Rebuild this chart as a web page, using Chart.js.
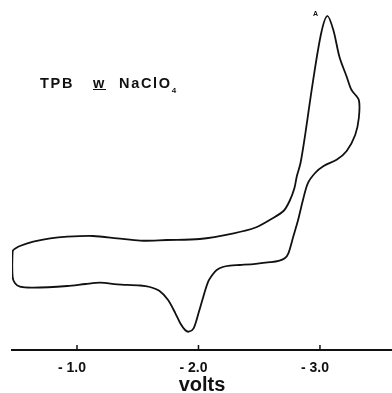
<!DOCTYPE html>
<html>
<head>
<meta charset="utf-8">
<script src="https://cdn.jsdelivr.net/npm/chart.js@4/dist/chart.umd.min.js"></script>
<style>
  html, body { margin: 0; padding: 0; background: #fff; }
  #wrap { position: relative; width: 392px; height: 393px; }
  .note {
    position: absolute; top: 76px; line-height: 1;
    font-family: 'Liberation Sans', Arial, sans-serif; font-size: 14.5px; font-weight: bold;
    letter-spacing: 1.7px; color: #111; white-space: pre;
  }
  .note sub { font-size: 8px; vertical-align: -5px; letter-spacing: 0; }
  #peakA {
    position: absolute; left: 313px; top: 10px;
    font-family: 'Liberation Sans', Arial, sans-serif; font-size: 7px; font-weight: bold; color: #111;
  }
</style>
</head>
<body>
<div id="wrap">
  <canvas id="cv"></canvas>
  <span class="note" style="left:40px">TPB</span>
  <span class="note" style="left:93px"><u>w</u></span>
  <span class="note" style="left:119px">NaClO<sub>4</sub></span>
  <div id="peakA">A</div>
</div>
<script>
// cyclic voltammogram, potential in volts, current in arbitrary units
const potential = [
  -0.48, -0.53, -0.64, -0.78, -0.92, -1.13, -1.33, -1.52, -1.74, -2.01,
  -2.29, -2.47, -2.60, -2.70, -2.75, -2.79, -2.81, -2.84, -2.88, -2.94,
  -3.01, -3.06, -3.11, -3.16, -3.22, -3.26, -3.32, -3.32, -3.29, -3.22,
  -3.14, -3.03, -2.96, -2.90, -2.86, -2.82, -2.78, -2.74, -2.71, -2.66,
  -2.59, -2.47, -2.34, -2.26, -2.20, -2.15, -2.12, -2.08, -2.04, -2.00,
  -1.96, -1.92, -1.89, -1.85, -1.81, -1.75, -1.68, -1.60, -1.52, -1.33,
  -1.19, -1.07, -0.92, -0.64, -0.53, -0.49, -0.47, -0.47, -0.48
];
const current = [
  10.07, 10.4, 10.83, 11.17, 11.33, 11.4, 11.17, 10.93, 11.0, 11.1,
  11.67, 12.25, 13.1, 13.9, 14.9, 16.2, 17.4, 18.7, 21.67, 26.67,
  31.67, 33.4, 32.0, 29.33, 27.33, 26.0, 25.0, 23.2, 21.5, 19.9,
  19.05, 18.4, 17.7, 16.67, 15.0, 13.0, 11.33, 9.67, 9.17, 8.92,
  8.78, 8.62, 8.5, 8.43, 8.3, 8.0, 7.6, 6.83, 5.33, 3.67,
  2.17, 1.83, 2.0, 2.67, 3.67, 5.0, 5.9, 6.3, 6.45, 6.57,
  6.73, 6.6, 6.4, 6.23, 6.33, 6.67, 7.33, 9.83, 10.07
];
const xTicks = [-1, -2, -3];

const points = potential.map((v, i) => ({ x: v, y: current[i] }));

// short tick marks pointing up from the axis line
const upTicks = {
  id: 'upTicks',
  afterDraw(chart) {
    const sx = chart.scales.x;
    const ctx = chart.ctx;
    ctx.save();
    ctx.strokeStyle = '#111';
    ctx.lineWidth = 1.5;
    xTicks.forEach(v => {
      const px = sx.getPixelForValue(v);
      ctx.beginPath();
      ctx.moveTo(px, sx.top);
      ctx.lineTo(px, sx.top - 5);
      ctx.stroke();
    });
    ctx.restore();
  }
};

new Chart(document.getElementById('cv'), {
  type: 'scatter',
  data: {
    datasets: [{
      data: points,
      showLine: true,
      borderColor: '#111',
      borderWidth: 1.8,
      pointRadius: 0,
      tension: 0.3,
      fill: false
    }]
  },
  options: {
    responsive: true,
    maintainAspectRatio: false,
    animation: false,
    layout: { padding: { left: 12, right: 0, top: 0, bottom: 0 } },
    plugins: { legend: { display: false }, tooltip: { enabled: false } },
    scales: {
      x: {
        type: 'linear',
        reverse: true,
        min: -3.593,
        max: -0.465,
        afterBuildTicks: (scale) => { scale.ticks = xTicks.map(v => ({ value: v })); },
        afterFit: (scale) => { scale.height = 43; },
        grid: { display: false, drawTicks: false, tickLength: 0 },
        border: { display: true, color: '#111', width: 2 },
        ticks: {
          padding: 11,
          labelOffset: -5,
          color: '#111',
          font: { family: 'Liberation Sans', size: 14, weight: 'bold', lineHeight: 1 },
          callback: (v) => '- ' + Math.abs(v).toFixed(1)
        },
        title: {
          display: true,
          text: 'volts',
          color: '#111',
          padding: { top: 2, bottom: 0 },
          font: { family: 'Liberation Sans', size: 20, weight: 'bold', lineHeight: 0.8 }
        }
      },
      y: { display: false, min: 0, max: 35 }
    }
  },
  plugins: [upTicks]
});
</script>
</body>
</html>
